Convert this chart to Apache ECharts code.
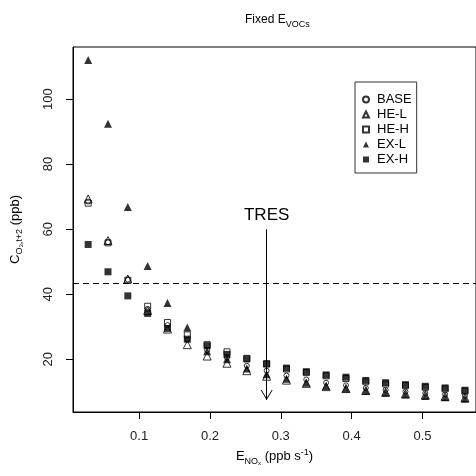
<!DOCTYPE html>
<html>
<head>
<meta charset="utf-8">
<script src="https://cdn.jsdelivr.net/npm/echarts@6/dist/echarts.min.js"></script>
<style>
html, body { margin: 0; padding: 0; background: #fff; }
#chart { width: 476px; height: 476px; }
</style>
</head>
<body>
<div id="chart"></div>
<script>
// emission rate of NOx (ppb s-1)
const eNOx = [0.028, 0.056, 0.084, 0.112, 0.140, 0.168, 0.196, 0.224, 0.252, 0.280,
              0.308, 0.336, 0.364, 0.392, 0.420, 0.448, 0.476, 0.504, 0.532, 0.560];

// O3 concentration (ppb) for each scenario
const base = [68.5, 56.0, 44.5, 35.5, 30.5, 26.0, 22.8, 20.5, 18.0, 16.5,
              15.0, 13.8, 12.8, 12.0, 11.2, 10.6, 10.1, 9.6, 9.2, 8.8];
const heL  = [69.3, 56.5, 44.7, 35.0, 29.3, 24.5, 21.0, 18.8, 16.5, 14.8,
              13.6, 12.6, 11.6, 11.0, 10.4, 9.9, 9.4, 9.0, 8.6, 8.2];
const heH  = [68.0, 55.8, 44.3, 36.3, 31.3, 27.5, 24.5, 22.3, 20.3, 18.6,
              17.0, 15.9, 14.9, 14.1, 13.1, 12.4, 11.9, 11.4, 10.9, 10.2];
const exL  = [112.0, 92.4, 66.8, 48.7, 37.3, 29.8, 22.5, 20.0, 17.2, 15.4,
              14.0, 12.8, 11.8, 11.0, 10.3, 9.7, 9.2, 8.7, 8.3, 7.9];
const exH  = [55.3, 46.9, 39.5, 34.1, 29.5, 26.2, 24.2, 21.5, 20.1, 18.6,
              17.3, 16.2, 15.2, 14.5, 13.5, 12.8, 12.2, 11.7, 11.2, 10.5];

const xTicks = [0.1, 0.2, 0.3, 0.4, 0.5];
const yTicks = [20, 40, 60, 80, 100];

const thresholdO3 = 43.5;   // dashed line
const tresNOx = 0.28;       // TRES arrow
const tresFrom = 60;
const tresTo = 7.5;

const font = 'Liberation Sans, Arial, Helvetica, sans-serif';

function pairs(ys) {
    return eNOx.map((x, i) => [x, ys[i]]);
}

const hollow = { color: 'rgba(255,255,255,0)', borderColor: '#000', borderWidth: 1 };
const solid = { color: '#000', borderWidth: 0 };

let chart = echarts.init(document.getElementById('chart'));

const option = {
    animation: false,
    textStyle: { fontFamily: font, color: '#000' },
    title: {
        text: '{a|Fixed E}{s|VOCs}',
        left: 240,
        top: 6,
        textStyle: {
            fontWeight: 'normal',
            rich: {
                a: { fontFamily: font, fontSize: 12, fontWeight: 'normal', color: '#000', lineHeight: 18, verticalAlign: 'middle' },
                s: { fontFamily: font, fontSize: 9, fontWeight: 'normal', color: '#000', lineHeight: 9, verticalAlign: 'bottom' }
            }
        }
    },
    legend: {
        orient: 'vertical',
        left: 355,
        top: 82,
        padding: [11, 5, 7, 7],
        borderColor: '#333',
        borderWidth: 1,
        itemWidth: 6,
        itemHeight: 6,
        itemGap: 2,
        selectedMode: false,
        textStyle: { fontFamily: font, fontSize: 13, color: '#000', lineHeight: 13, padding: [0, 0, 0, 3] },
        data: ['BASE', 'HE-L', 'HE-H', 'EX-L', 'EX-H']
    },
    grid: {
        show: true,
        left: 73,
        top: 47,
        bottom: 64,
        right: -5,
        borderColor: '#000',
        borderWidth: 1
    },
    xAxis: {
        type: 'value',
        min: 0.0066,
        max: 0.5756,
        name: '{a|E}{s|NO}{ss|x}{a| (ppb s}{sup|-1}{a|)}',
        nameLocation: 'middle',
        nameGap: 30,
        nameTextStyle: {
            rich: {
                a: { fontFamily: font, fontSize: 13, color: '#000', lineHeight: 18, verticalAlign: 'middle' },
                s: { fontFamily: font, fontSize: 9, color: '#000', lineHeight: 9, verticalAlign: 'bottom' },
                ss: { fontFamily: font, fontSize: 6, color: '#000', lineHeight: 6, verticalAlign: 'bottom' },
                sup: { fontFamily: font, fontSize: 9, color: '#000', lineHeight: 9, verticalAlign: 'top' }
            }
        },
        axisLine: { lineStyle: { color: '#000', width: 1 } },
        axisTick: { length: 7, customValues: xTicks, lineStyle: { color: '#000' } },
        axisLabel: { customValues: xTicks, margin: 18, fontSize: 13, color: '#222', fontFamily: font },
        splitLine: { show: false }
    },
    yAxis: {
        type: 'value',
        min: 3.8,
        max: 116,
        name: '{a|C}{s|O}{ss|3}{s|,t+2}{a| (ppb)}',
        nameLocation: 'middle',
        nameGap: 49,
        nameTextStyle: {
            rich: {
                a: { fontFamily: font, fontSize: 13, color: '#000', lineHeight: 18, verticalAlign: 'middle' },
                s: { fontFamily: font, fontSize: 9, color: '#000', lineHeight: 9, verticalAlign: 'bottom' },
                ss: { fontFamily: font, fontSize: 6, color: '#000', lineHeight: 6, verticalAlign: 'bottom' }
            }
        },
        axisLine: { show: true, lineStyle: { color: '#000', width: 1 } },
        axisTick: { show: true, length: 7, customValues: yTicks, lineStyle: { color: '#000' } },
        axisLabel: { customValues: yTicks, rotate: 90, margin: 18, fontSize: 13, color: '#222', fontFamily: font },
        splitLine: { show: false }
    },
    series: [
        {
            name: 'BASE',
            type: 'scatter',
            symbol: 'circle',
            symbolSize: 5,
            itemStyle: hollow,
            data: pairs(base),
            markLine: {
                silent: true,
                symbol: 'none',
                animation: false,
                label: { show: false },
                data: [
                    { yAxis: thresholdO3, lineStyle: { color: '#000', width: 1, type: [6, 4] } },
                    [
                        {
                            coord: [tresNOx, tresFrom],
                            symbol: 'none',
                            lineStyle: { color: '#000', width: 1, type: 'solid' },
                            label: {
                                show: true,
                                position: 'start',
                                formatter: 'TRES',
                                distance: 5,
                                fontFamily: font,
                                fontSize: 17,
                                color: '#000'
                            }
                        },
                        {
                            coord: [tresNOx, tresTo],
                            symbol: 'path://M5,0L10,10L9.2,10L5,1.6L0.8,10L0,10Z',
                            symbolSize: [12, 10],
                            symbolOffset: [0, 5]
                        }
                    ]
                ]
            }
        },
        { name: 'HE-L', type: 'scatter', symbol: 'triangle', symbolSize: 8, itemStyle: hollow, data: pairs(heL) },
        { name: 'HE-H', type: 'scatter', symbol: 'rect', symbolSize: 6, itemStyle: hollow, data: pairs(heH) },
        { name: 'EX-L', type: 'scatter', symbol: 'triangle', symbolSize: 8, itemStyle: solid, data: pairs(exL) },
        { name: 'EX-H', type: 'scatter', symbol: 'rect', symbolSize: 7, itemStyle: solid, data: pairs(exH) }
    ]
};

chart.setOption(option);
window.addEventListener('resize', function () {
    chart.resize();
});
</script>
</body>
</html>
